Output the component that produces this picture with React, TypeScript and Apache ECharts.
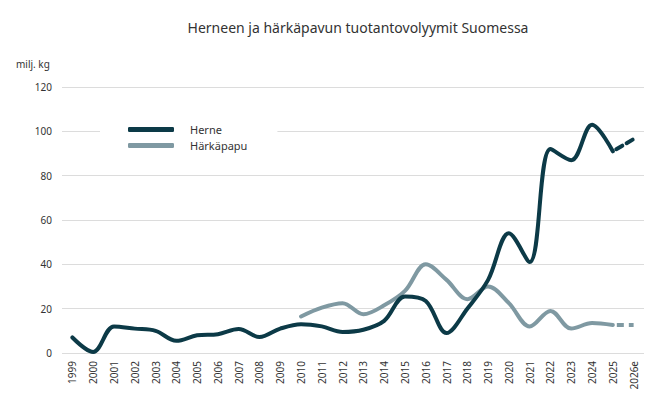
import { useEffect, useRef } from "react"
import * as echarts from "echarts"

const years = [
  "1999", "2000", "2001", "2002", "2003", "2004", "2005", "2006", "2007", "2008",
  "2009", "2010", "2011", "2012", "2013", "2014", "2015", "2016", "2017", "2018",
  "2019", "2020", "2021", "2022", "2023", "2024", "2025", "2026e",
]

// milj. kg
const herne = [
  7, 0.5, 12, 11, 10, 5.5, 8, 8.5, 10.8, 7.2,
  11, 13, 12, 9.5, 10.5, 14.5, 25.5, 23.5, 9, 20,
  33, 54, 41, 92, 87, 103, 91, null,
]
const herneEstimate = [
  null, null, null, null, null, null, null, null, null, null,
  null, null, null, null, null, null, null, null, null, null,
  null, null, null, null, null, null, 91, 96.5,
]
const harkapapu = [
  null, null, null, null, null, null, null, null, null, null,
  null, 16.5, 20.5, 22.5, 17.5, 21.5, 28, 40, 33, 24.3,
  30, 22.5, 12, 19, 11, 13.5, 12.6, null,
]
const harkapapuEstimate = [
  null, null, null, null, null, null, null, null, null, null,
  null, null, null, null, null, null, null, null, null, null,
  null, null, null, null, null, null, 12.6, 12.6,
]

const FONT = "Noto Sans"
const HERNE_COLOR = "#0c3a47"
const HARKA_COLOR = "#7f99a2"

export default function App() {
  const chartRef = useRef<HTMLDivElement>(null)

  useEffect(() => {
    if (!chartRef.current) return
    const chart = echarts.init(chartRef.current, null, { renderer: "svg" })

    const option: echarts.EChartsOption = {
      animation: false,
      textStyle: { fontFamily: FONT },
      title: {
        text: "Herneen ja härkäpavun tuotantovolyymit Suomessa",
        left: 353,
        textAlign: "center",
        top: 15,
        textStyle: { fontFamily: FONT, fontSize: 14, fontWeight: "normal", color: "#333" },
      },
      graphic: [
        {
          type: "text",
          left: 16,
          top: 59,
          style: { text: "milj. kg", fontFamily: FONT, fontSize: 10, fill: "#333" },
        },
      ],
      legend: {
        data: ["Herne", "Härkäpapu"],
        orient: "vertical",
        left: 100,
        top: 120,
        backgroundColor: "#fff",
        padding: [4, 30, 4, 28],
        itemGap: 5,
        itemWidth: 46,
        itemHeight: 5,
        icon: "roundRect",
        textStyle: { fontFamily: FONT, fontSize: 11, color: "#333", padding: [0, 0, 0, 11] },
        z: 10,
      },
      grid: { left: 62, right: 27, top: 87, bottom: 62 },
      xAxis: {
        type: "category",
        data: years,
        boundaryGap: true,
        axisLine: { show: false },
        axisTick: { show: false },
        axisLabel: {
          rotate: 90,
          interval: 0,
          margin: 8,
          fontFamily: FONT,
          fontSize: 10,
          color: "#333",
        },
      },
      yAxis: {
        type: "value",
        min: 0,
        max: 120,
        interval: 20,
        axisLabel: { fontFamily: FONT, fontSize: 10, color: "#333", margin: 10 },
        splitLine: { lineStyle: { color: "#dcdcdc", width: 1 } },
      },
      series: [
        {
          name: "Herne",
          type: "line",
          data: herne,
          smooth: 0.35,
          showSymbol: false,
          symbol: "none",
          itemStyle: { color: HERNE_COLOR },
          lineStyle: { color: HERNE_COLOR, width: 4, cap: "round" },
          z: 3,
        },
        {
          name: "Herne arvio",
          type: "line",
          data: herneEstimate,
          showSymbol: false,
          symbol: "none",
          itemStyle: { color: HERNE_COLOR },
          lineStyle: { color: HERNE_COLOR, width: 4, type: [7, 5], dashOffset: -4, cap: "round" },
          z: 3,
        },
        {
          name: "Härkäpapu",
          type: "line",
          data: harkapapu,
          smooth: 0.35,
          showSymbol: false,
          symbol: "none",
          itemStyle: { color: HARKA_COLOR },
          lineStyle: { color: HARKA_COLOR, width: 4, cap: "round" },
          z: 2,
        },
        {
          name: "Härkäpapu arvio",
          type: "line",
          data: harkapapuEstimate,
          showSymbol: false,
          symbol: "none",
          itemStyle: { color: HARKA_COLOR },
          lineStyle: { color: HARKA_COLOR, width: 4, type: [7, 5], dashOffset: -4 },
          z: 2,
        },
      ],
    }

    chart.setOption(option)
    return () => {
      chart.dispose()
    }
  }, [])

  return (
    <div
      ref={chartRef}
      style={{ position: "absolute", left: 0, top: 0, width: 671, height: 415 }}
    />
  )
}
